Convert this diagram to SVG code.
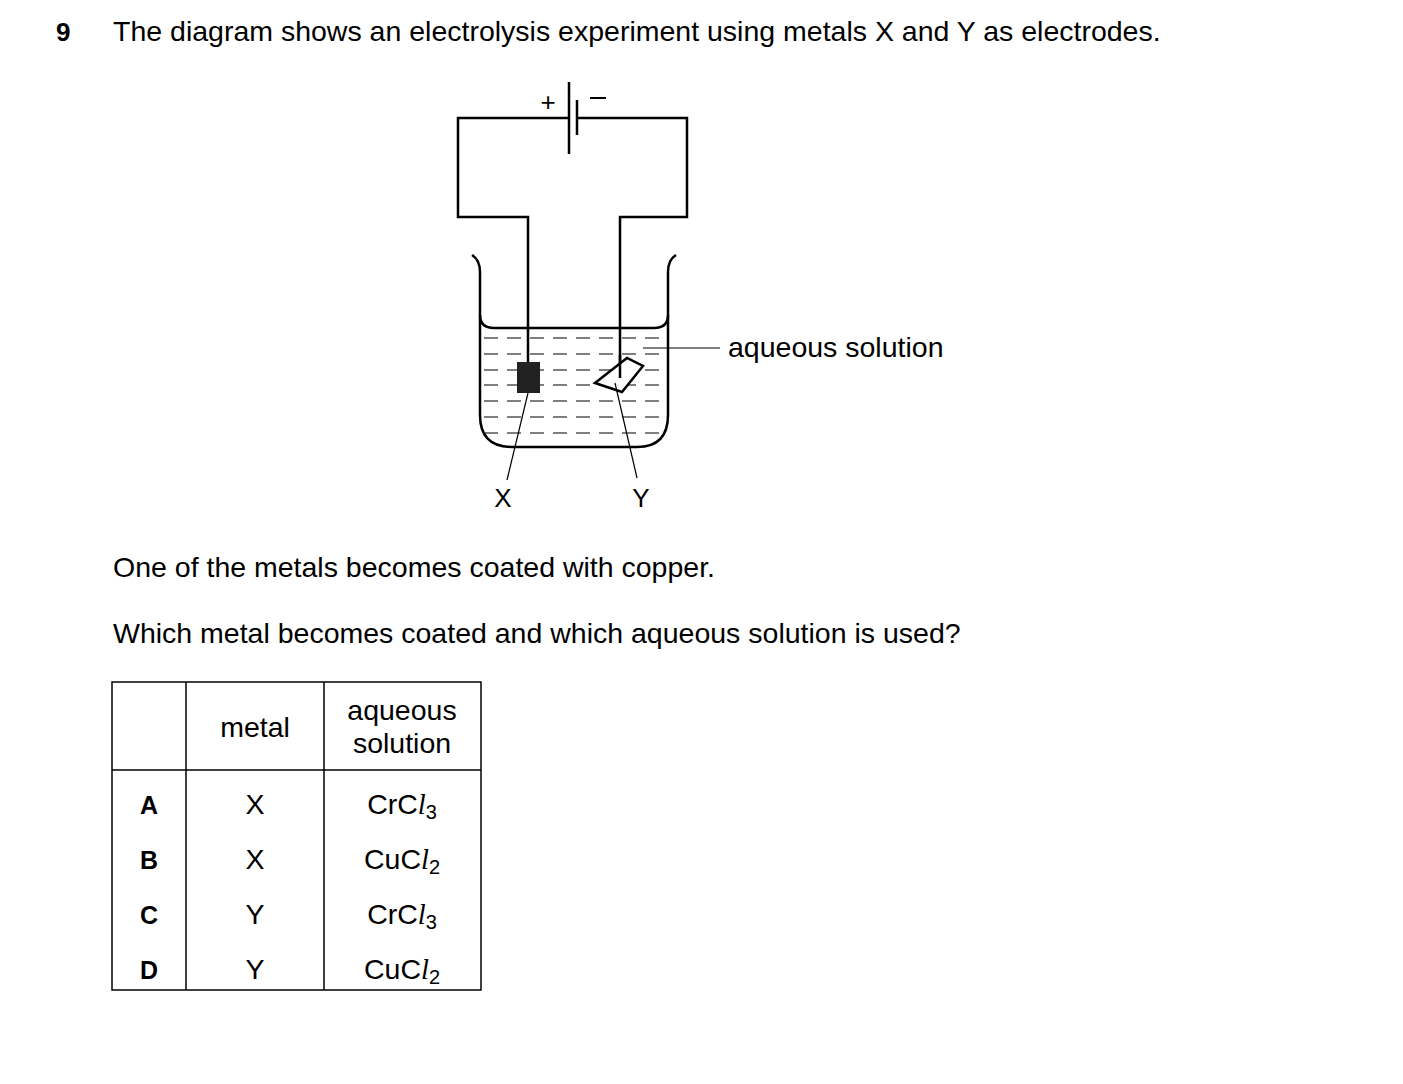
<svg xmlns="http://www.w3.org/2000/svg" width="1403" height="1084" viewBox="0 0 1403 1084">
<style>
text{font-family:"Liberation Sans",Arial,sans-serif;font-size:28.5px;fill:#000}
.w{fill:none;stroke:#000;stroke-width:2.5}
.t{fill:none;stroke:#000;stroke-width:1.2}
.d{stroke:#000;stroke-width:1.2;stroke-dasharray:14,9}
.c{text-anchor:middle}
.b{font-weight:bold}
</style>
<rect width="1403" height="1084" fill="#fff"/>
<text x="56" y="41" class="b" style="font-size:26px">9</text>
<text x="113" y="41">The diagram shows an electrolysis experiment using metals X and Y as electrodes.</text>
<g id="circuit">
<path class="w" d="M569,118 H458 V217 H528 V362 M577,118 H687 V217 H620 V378"/>
<path class="w" d="M569,82 V154 M577,100 V135"/>
<text x="548" y="111" style="font-size:26px" class="c">+</text>
<path stroke="#000" stroke-width="2" d="M590,98 H606"/>
</g>
<g id="beaker">
<path class="w" d="M472,255 Q480,260 480,272 V415 Q480,447 512,447 H637 Q668,447 668,415 V272 Q668,260 676,255"/>
<path class="w" d="M480,315 Q480,328 494,328 H654 Q668,328 668,315"/>
<g class="d">
<path d="M484,338 H666"/><path d="M484,354 H666"/><path d="M484,370 H666"/><path d="M484,385 H666"/><path d="M484,401 H666"/><path d="M484,417 H666"/><path d="M484,433 H666"/>
</g>
</g>
<g id="electrodeX">
<rect x="517" y="362" width="23" height="31" fill="#222"/>
<path class="t" d="M528,393 L507,480"/>
<text x="503" y="507" class="c" style="font-size:26px">X</text>
</g>
<g id="electrodeY">
<polygon points="595,383 627,358 643,366 622,392" fill="#fff" stroke="#000" stroke-width="2.5"/>
<path class="w" d="M620,355 V378"/>
<path class="t" d="M615,383 L637,478"/>
<text x="641" y="507" class="c" style="font-size:26px">Y</text>
</g>
<g id="label">
<path class="t" d="M643,348 H720"/>
<text x="728" y="357">aqueous solution</text>
</g>
<text x="113" y="577">One of the metals becomes coated with copper.</text>
<text x="113" y="643">Which metal becomes coated and which aqueous solution is used?</text>
<g id="table">
<rect x="112" y="682" width="369" height="308" fill="none" stroke="#000" stroke-width="1.5"/>
<path stroke="#000" stroke-width="1.5" d="M186,682 V990 M324,682 V990 M112,770 H481"/>
<text x="255" y="737" class="c">metal</text>
<text x="402" y="720" class="c">aqueous</text>
<text x="402" y="753" class="c">solution</text>
<text x="149" y="814" class="c b" style="font-size:25px">A</text>
<text x="149" y="869" class="c b" style="font-size:25px">B</text>
<text x="149" y="924" class="c b" style="font-size:25px">C</text>
<text x="149" y="979" class="c b" style="font-size:25px">D</text>
<text x="255" y="814" class="c">X</text>
<text x="255" y="869" class="c">X</text>
<text x="255" y="924" class="c">Y</text>
<text x="255" y="979" class="c">Y</text>
<text x="402" y="814" class="c">CrC<tspan font-family="Liberation Serif" font-style="italic">l</tspan><tspan font-size="20" dy="5">3</tspan></text>
<text x="402" y="869" class="c">CuC<tspan font-family="Liberation Serif" font-style="italic">l</tspan><tspan font-size="20" dy="5">2</tspan></text>
<text x="402" y="924" class="c">CrC<tspan font-family="Liberation Serif" font-style="italic">l</tspan><tspan font-size="20" dy="5">3</tspan></text>
<text x="402" y="979" class="c">CuC<tspan font-family="Liberation Serif" font-style="italic">l</tspan><tspan font-size="20" dy="5">2</tspan></text>
</g>
</svg>
